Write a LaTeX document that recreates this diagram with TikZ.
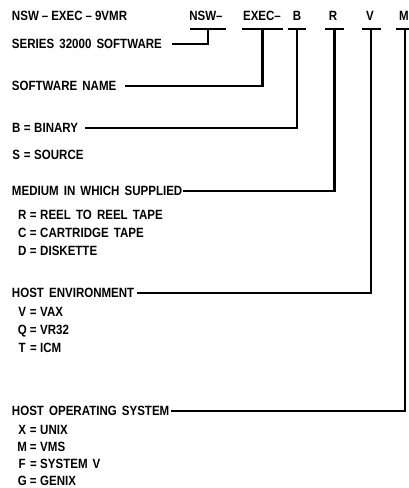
\documentclass[tikz,border=0pt]{standalone}
\usepackage{fontspec}
\setmainfont{Liberation Sans Bold}[FakeStretch=0.86,WordSpace=1.6]
\newcommand\eqrow[2]{\makebox[8.5pt][c]{#1}\hspace{3.5pt}=\hspace{3.5pt}#2}
\begin{document}
\begin{tikzpicture}[x=1pt,y=-1pt,
  lbl/.style={anchor=west, inner sep=0pt, outer sep=0pt, text height=9.6pt, text depth=0pt, font=\fontsize{13.4}{15}\selectfont},
  hdr/.style={lbl, anchor=center},
  bar/.style={fill=black, draw=none, inner sep=0pt, outer sep=0pt, minimum height=2.6pt},
  conn/.style={line width=2.1pt}]
\useasboundingbox (0,0) rectangle (409,488);
% header
\node[lbl] (title) at (12,16) {NSW\hspace{3pt}–\hspace{3pt}EXEC\hspace{3pt}–\hspace{3pt}9VMR};
\node[hdr] (hN) at (206,16) {NSW–};
\node[hdr] (hE) at (262,16) {EXEC–};
\node[hdr] (hB) at (297,16) {B};
\node[hdr] (hR) at (333,16) {R};
\node[hdr] (hV) at (370,16) {V};
\node[hdr] (hM) at (404,16) {M};
% underline bars
\node[bar, minimum width=36pt] (uN) at (208,29) {};
\node[bar, minimum width=41pt] (uE) at (262.5,29) {};
\node[bar, minimum width=18pt] (uB) at (297,29) {};
\node[bar, minimum width=19pt] (uR) at (334.5,29) {};
\node[bar, minimum width=19pt] (uV) at (371,29) {};
\node[bar, minimum width=19pt] (uM) at (405,29) {};
% labels
\node[lbl] (lS) at (12,44) {SERIES 32000 SOFTWARE};
\node[lbl] (lN) at (12,86) {SOFTWARE NAME};
\node[lbl] (lB) at (12,128) {\eqrow{B}{BINARY}};
\node[lbl] (lBs) at (12,155) {\eqrow{S}{SOURCE}};
\node[lbl] (lR) at (12,191) {MEDIUM IN WHICH SUPPLIED};
\node[lbl] (lR1) at (18,215) {\eqrow{R}{REEL TO REEL TAPE}};
\node[lbl] (lR2) at (18,233) {\eqrow{C}{CARTRIDGE TAPE}};
\node[lbl] (lR3) at (18,251) {\eqrow{D}{DISKETTE}};
\node[lbl] (lV) at (12,293) {HOST ENVIRONMENT};
\node[lbl] (lV1) at (18,312) {\eqrow{V}{VAX}};
\node[lbl] (lV2) at (18,330) {\eqrow{Q}{VR32}};
\node[lbl] (lV3) at (18,348) {\eqrow{T}{ICM}};
\node[lbl] (lM) at (12,411) {HOST OPERATING SYSTEM};
\node[lbl] (lM1) at (18,430) {\eqrow{X}{UNIX}};
\node[lbl] (lM2) at (18,447) {\eqrow{M}{VMS}};
\node[lbl] (lM3) at (18,464) {\eqrow{F}{SYSTEM V}};
\node[lbl] (lM4) at (18,481) {\eqrow{G}{GENIX}};
% connectors
\draw[conn, shorten >=10pt] (uN.center) |- (lS.east);
\draw[conn, shorten >=9pt] (uE.center) |- (lN.east);
\draw[conn, shorten >=7pt] (uB.center) |- (lB.east);
\draw[conn, shorten >=1pt] (uR.center) |- (lR.east);
\draw[conn, shorten >=3pt] (uV.center) |- (lV.east);
\draw[conn, shorten >=2pt] (uM.center) |- (lM.east);
\end{tikzpicture}
\end{document}
